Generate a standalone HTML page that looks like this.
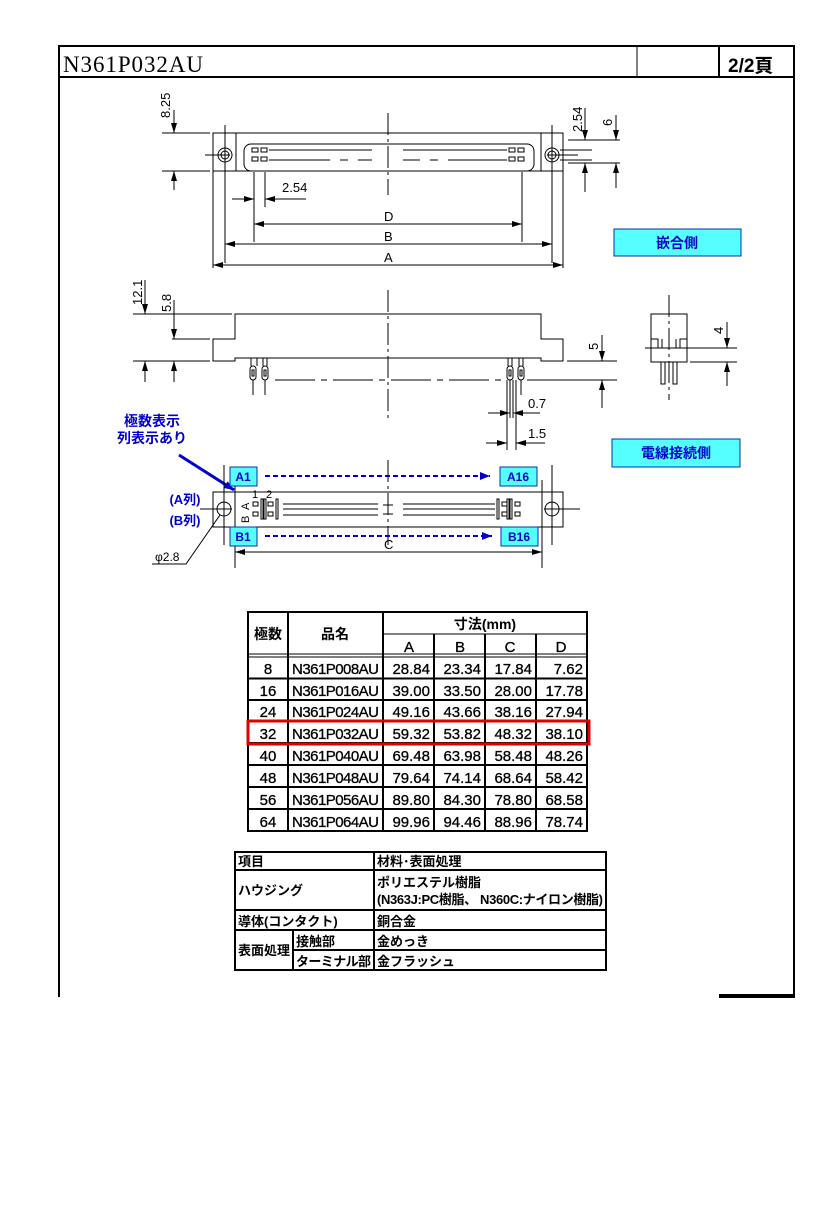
<!DOCTYPE html>
<html><head><meta charset="utf-8"><style>
html,body{margin:0;padding:0;background:#fff;width:827px;height:1205px;overflow:hidden}
svg{display:block}
.t{font-family:"Liberation Sans","Noto Sans CJK JP",sans-serif}
.j{font-family:"Liberation Sans","Noto Sans CJK JP",sans-serif;font-weight:bold}
</style></head><body>
<svg width="827" height="1205" viewBox="0 0 827 1205" xmlns="http://www.w3.org/2000/svg">
<defs>
<marker id="ar" viewBox="0 0 10 6" refX="10" refY="3" markerWidth="10" markerHeight="6" orient="auto-start-reverse" markerUnits="userSpaceOnUse"><path d="M0,0L10,3L0,6z" fill="#000"/></marker>
<marker id="ab" viewBox="0 0 10 8" refX="10" refY="4" markerWidth="10" markerHeight="8" orient="auto" markerUnits="userSpaceOnUse"><path d="M0,0L10,4L0,8z" fill="#0000cc"/></marker>
</defs>
<g stroke="#000" fill="none">
<line x1="58" y1="46" x2="795" y2="46" stroke-width="2"/>
<line x1="58" y1="77" x2="795" y2="77" stroke-width="2"/>
<line x1="59" y1="45" x2="59" y2="997" stroke-width="2"/>
<line x1="794" y1="45" x2="794" y2="997" stroke-width="2"/>
<line x1="637" y1="46" x2="637" y2="77" stroke-width="1"/>
<line x1="719" y1="46" x2="719" y2="77" stroke-width="2"/>
<line x1="719" y1="996" x2="795" y2="996" stroke-width="4"/>
</g>
<text x="63" y="72" font-family="Liberation Serif,serif" font-size="23" textLength="140">N361P032AU</text>
<text x="728" y="72" class="j" font-size="19">2/2頁</text>

<g stroke="#000" fill="none" stroke-width="1">
<rect x="213" y="133" width="350" height="38"/>
<line x1="236" y1="133" x2="236" y2="171"/>
<line x1="541" y1="133" x2="541" y2="171"/>
<circle cx="225" cy="155" r="7"/><circle cx="225" cy="155" r="4"/>
<circle cx="552" cy="155" r="7"/><circle cx="552" cy="155" r="4"/>
<rect x="244" y="144" width="290" height="27" rx="7"/>
<rect x="252" y="148" width="6" height="4"/><rect x="261" y="148" width="6" height="4"/>
<rect x="252" y="157" width="6" height="4"/><rect x="261" y="157" width="6" height="4"/>
<rect x="509" y="148" width="6" height="4"/><rect x="518" y="148" width="6" height="4"/>
<rect x="509" y="157" width="6" height="4"/><rect x="518" y="157" width="6" height="4"/>
<path d="M269 150H372M403 150H507M269 160H330M340 160H348M358 160H372M403 160H420M430 160H438M448 160H507"/>
<line x1="388" y1="113" x2="388" y2="195" stroke-dasharray="22,4,3,4"/>
<line x1="205" y1="155" x2="230" y2="155"/><line x1="547" y1="155" x2="578" y2="155"/>
<line x1="225" y1="125" x2="225" y2="263"/><line x1="552" y1="125" x2="552" y2="263"/>
<line x1="213" y1="171" x2="213" y2="268"/><line x1="563" y1="171" x2="563" y2="268"/>
<line x1="162" y1="133" x2="210" y2="133"/><line x1="162" y1="171" x2="210" y2="171"/>
<line x1="174" y1="110" x2="174" y2="133" marker-end="url(#ar)"/>
<line x1="174" y1="190" x2="174" y2="171" marker-end="url(#ar)"/>
<line x1="254" y1="172" x2="254" y2="242"/><line x1="265" y1="172" x2="265" y2="207"/>
<line x1="232" y1="199" x2="254" y2="199" marker-end="url(#ar)"/>
<line x1="306" y1="199" x2="265" y2="199" marker-end="url(#ar)"/>
<line x1="522" y1="172" x2="522" y2="242"/>
<line x1="254" y1="224" x2="522" y2="224" marker-start="url(#ar)" marker-end="url(#ar)"/>
<line x1="225" y1="244" x2="552" y2="244" marker-start="url(#ar)" marker-end="url(#ar)"/>
<line x1="213" y1="265" x2="563" y2="265" marker-start="url(#ar)" marker-end="url(#ar)"/>
<line x1="568" y1="140" x2="620" y2="140"/><line x1="568" y1="163" x2="620" y2="163"/>
<line x1="560" y1="150" x2="592" y2="150"/><line x1="560" y1="160" x2="592" y2="160"/>
<line x1="585" y1="108" x2="585" y2="140" marker-end="url(#ar)"/>
<line x1="585" y1="192" x2="585" y2="163" marker-end="url(#ar)"/>
<line x1="616" y1="115" x2="616" y2="140" marker-end="url(#ar)"/>
<line x1="616" y1="188" x2="616" y2="163" marker-end="url(#ar)"/>
</g>
<g class="t" font-size="13">
<text transform="translate(170,118) rotate(-90)">8.25</text>
<text x="282" y="192">2.54</text>
<text x="384" y="221">D</text>
<text x="384" y="241">B</text>
<text x="384" y="262">A</text>
<text transform="translate(582,132) rotate(-90)">2.54</text>
<text transform="translate(612,126) rotate(-90)">6</text>
</g>
<rect x="614" y="229" width="127" height="27" fill="#55ffff" stroke="#0033aa"/>
<text x="677" y="248" class="j" font-size="14" fill="#0000cc" text-anchor="middle">嵌合側</text>

<g stroke="#000" fill="none" stroke-width="1">
<path d="M235 314H541V339H563V361H541V358H235V361H213V339H235Z"/>
<line x1="388" y1="290" x2="388" y2="418" stroke-dasharray="22,4,3,4"/>
<line x1="133" y1="314" x2="232" y2="314"/>
<line x1="172" y1="339" x2="210" y2="339"/>
<line x1="133" y1="361" x2="210" y2="361"/>
<line x1="145" y1="280" x2="145" y2="314" marker-end="url(#ar)"/>
<line x1="145" y1="382" x2="145" y2="361" marker-end="url(#ar)"/>
<line x1="174" y1="300" x2="174" y2="339" marker-end="url(#ar)"/>
<line x1="174" y1="382" x2="174" y2="361" marker-end="url(#ar)"/>
<g>
<path d="M251 358v8M257 358v8"/>
<rect x="250" y="366" width="6" height="14" rx="3"/><rect x="252" y="370" width="2" height="6"/>
<rect x="262" y="366" width="6" height="14" rx="3"/><rect x="264" y="370" width="2" height="6"/>
<path d="M263 358v8M267 358v8M253 380v15M265 380v15"/>
<rect x="507" y="366" width="6" height="14" rx="3"/><rect x="509" y="370" width="2" height="6"/>
<rect x="518" y="366" width="6" height="14" rx="3"/><rect x="520" y="370" width="2" height="6"/>
<path d="M508 358v8M512 358v8M519 358v8M523 358v8M521 380v15"/>
</g>
<line x1="275" y1="380" x2="505" y2="380" stroke-dasharray="40,6,6,6"/>
<line x1="527" y1="380" x2="617" y2="380"/>
<line x1="567" y1="361" x2="617" y2="361"/>
<line x1="602" y1="335" x2="602" y2="361" marker-end="url(#ar)"/>
<line x1="602" y1="408" x2="602" y2="380" marker-end="url(#ar)"/>
<line x1="507" y1="380" x2="507" y2="450"/><line x1="510" y1="380" x2="510" y2="418"/>
<line x1="513" y1="380" x2="513" y2="418"/><line x1="516" y1="380" x2="516" y2="450"/>
<line x1="488" y1="413" x2="510" y2="413" marker-end="url(#ar)"/>
<line x1="540" y1="413" x2="513" y2="413" marker-end="url(#ar)"/>
<line x1="486" y1="443" x2="507" y2="443" marker-end="url(#ar)"/>
<line x1="545" y1="443" x2="516" y2="443" marker-end="url(#ar)"/>
<rect x="651" y="314" width="36" height="48"/>
<path d="M651 339H658V348M680 348V339H687M658 339V348M662 339V348M676 339V348"/>
<line x1="669" y1="295" x2="669" y2="400" stroke-dasharray="22,4,3,4"/>
<rect x="661" y="362" width="4" height="22"/><rect x="673" y="362" width="4" height="22"/>
<line x1="645" y1="348" x2="737" y2="348"/><line x1="690" y1="362" x2="737" y2="362"/>
<line x1="727" y1="322" x2="727" y2="348" marker-end="url(#ar)"/>
<line x1="727" y1="386" x2="727" y2="362" marker-end="url(#ar)"/>
</g>
<g class="t" font-size="13">
<text transform="translate(142,305) rotate(-90)">12.1</text>
<text transform="translate(171,312) rotate(-90)">5.8</text>
<text transform="translate(598,350) rotate(-90)">5</text>
<text x="528" y="408">0.7</text>
<text x="528" y="438">1.5</text>
<text transform="translate(723,334) rotate(-90)">4</text>
</g>
<rect x="612" y="439" width="128" height="28" fill="#55ffff" stroke="#0033aa"/>
<text x="676" y="458" class="j" font-size="14" fill="#0000cc" text-anchor="middle">電線接続側</text>
<text x="152" y="426" class="j" font-size="14" fill="#0000cc" text-anchor="middle">極数表示</text>
<text x="152" y="443" class="j" font-size="14" fill="#0000cc" text-anchor="middle">列表示あり</text>
<line x1="179" y1="455" x2="234" y2="490" stroke="#0000cc" stroke-width="3" marker-end="url(#ab)"/>

<g stroke="#000" fill="none" stroke-width="1">
<rect x="213" y="492" width="350" height="35"/>
<line x1="235" y1="480" x2="235" y2="568"/>
<line x1="542" y1="480" x2="542" y2="568"/>
<line x1="224" y1="465" x2="224" y2="545"/><line x1="552" y1="465" x2="552" y2="545"/>
<circle cx="224" cy="509" r="7"/><circle cx="552" cy="509" r="7"/>
<line x1="200" y1="509" x2="232" y2="509"/><line x1="544" y1="509" x2="580" y2="509"/>
<line x1="388" y1="460" x2="388" y2="545" stroke-dasharray="22,4,3,4"/>
<path d="M283 504H378M283 509H378M283 515H378M403 504H495M403 509H495M403 515H495"/>
<path d="M383 505H393M388 505V514M383 514H393"/>
<rect x="253" y="502" width="5" height="4"/><rect x="253" y="512" width="5" height="4"/>
<rect x="268" y="502" width="5" height="4"/><rect x="268" y="512" width="5" height="4"/>
<rect x="261" y="499" width="2" height="20"/><rect x="264" y="499" width="2" height="20"/>
<rect x="276" y="499" width="2" height="20"/>
<rect x="497" y="499" width="2" height="20"/><rect x="510" y="499" width="2" height="20"/><rect x="507" y="499" width="2" height="20"/>
<rect x="502" y="502" width="5" height="4"/><rect x="502" y="512" width="5" height="4"/>
<rect x="515" y="502" width="5" height="4"/><rect x="515" y="512" width="5" height="4"/>
<line x1="235" y1="552" x2="542" y2="552" marker-start="url(#ar)" marker-end="url(#ar)"/>
<polyline points="152,564 186,564 220,515"/>
</g>
<g class="t" font-size="11">
<text x="252" y="498">1</text><text x="266" y="498">2</text>
<text transform="translate(249,510) rotate(-90)">A</text>
<text transform="translate(249,523) rotate(-90)">B</text>
</g>
<text x="384" y="549" class="t" font-size="13">C</text>
<text x="155" y="561" class="t" font-size="12">φ2.8</text>
<text x="185" y="504" class="j" font-size="13" fill="#0000cc" text-anchor="middle">(A列)</text>
<text x="185" y="525" class="j" font-size="13" fill="#0000cc" text-anchor="middle">(B列)</text>
<g stroke="#0033aa" fill="#55ffff">
<rect x="230" y="467" width="27" height="19"/><rect x="500" y="467" width="37" height="19"/>
<rect x="230" y="527" width="27" height="19"/><rect x="501" y="527" width="37" height="19"/>
</g>
<g class="j" font-size="12" fill="#0000cc" text-anchor="middle">
<text x="243" y="481">A1</text><text x="518" y="481">A16</text>
<text x="243" y="541">B1</text><text x="519" y="541">B16</text>
</g>
<g stroke="#0000cc" stroke-width="2" stroke-dasharray="5,3">
<line x1="265" y1="476" x2="490" y2="476" marker-end="url(#ab)"/>
<line x1="265" y1="536" x2="492" y2="536" marker-end="url(#ab)"/>
</g>

<g stroke="#000" fill="none">
<rect x="248" y="612" width="339" height="219" stroke-width="2"/>
<line x1="383" y1="634" x2="587" y2="634"/>
<line x1="248" y1="654" x2="587" y2="654" stroke-width="1"/>
<line x1="248" y1="657" x2="587" y2="657" stroke-width="1"/>
<line x1="288" y1="612" x2="288" y2="831" stroke-width="2"/>
<line x1="383" y1="612" x2="383" y2="831" stroke-width="2"/>
<line x1="434" y1="634" x2="434" y2="831" stroke-width="2"/>
<line x1="485" y1="634" x2="485" y2="831" stroke-width="2"/>
<line x1="536" y1="634" x2="536" y2="831" stroke-width="2"/>
<g stroke-width="2">
<line x1="248" y1="678.5" x2="587" y2="678.5"/><line x1="248" y1="700" x2="587" y2="700"/>
<line x1="248" y1="721.5" x2="587" y2="721.5"/><line x1="248" y1="743" x2="587" y2="743"/>
<line x1="248" y1="765" x2="587" y2="765"/><line x1="248" y1="787" x2="587" y2="787"/>
<line x1="248" y1="809" x2="587" y2="809"/>
</g>
</g>
<g class="j" font-size="14" text-anchor="middle">
<text x="268" y="639">極数</text><text x="335" y="639">品名</text><text x="485" y="629">寸法(mm)</text>
</g>
<g class="t" font-size="15" text-anchor="middle" stroke="#000" stroke-width="0.3">
<text x="409" y="652">A</text><text x="460" y="652">B</text><text x="510" y="652">C</text><text x="561" y="652">D</text>
</g>
<g class="t" font-size="15" stroke="#000" stroke-width="0.3">
<g text-anchor="middle">
<text x="268" y="674">8</text><text x="268" y="696">16</text><text x="268" y="717">24</text><text x="268" y="739">32</text>
<text x="268" y="761">40</text><text x="268" y="783">48</text><text x="268" y="805">56</text><text x="268" y="827">64</text>
</g>
<g>
<text x="292" y="674" textLength="87">N361P008AU</text><text x="292" y="696" textLength="87">N361P016AU</text>
<text x="292" y="717" textLength="87">N361P024AU</text><text x="292" y="739" textLength="87">N361P032AU</text>
<text x="292" y="761" textLength="87">N361P040AU</text><text x="292" y="783" textLength="87">N361P048AU</text>
<text x="292" y="805" textLength="87">N361P056AU</text><text x="292" y="827" textLength="87">N361P064AU</text>
</g>
<g text-anchor="end">
<text x="430" y="674">28.84</text><text x="481" y="674">23.34</text><text x="532" y="674">17.84</text><text x="583" y="674">7.62</text>
<text x="430" y="696">39.00</text><text x="481" y="696">33.50</text><text x="532" y="696">28.00</text><text x="583" y="696">17.78</text>
<text x="430" y="717">49.16</text><text x="481" y="717">43.66</text><text x="532" y="717">38.16</text><text x="583" y="717">27.94</text>
<text x="430" y="739">59.32</text><text x="481" y="739">53.82</text><text x="532" y="739">48.32</text><text x="583" y="739">38.10</text>
<text x="430" y="761">69.48</text><text x="481" y="761">63.98</text><text x="532" y="761">58.48</text><text x="583" y="761">48.26</text>
<text x="430" y="783">79.64</text><text x="481" y="783">74.14</text><text x="532" y="783">68.64</text><text x="583" y="783">58.42</text>
<text x="430" y="805">89.80</text><text x="481" y="805">84.30</text><text x="532" y="805">78.80</text><text x="583" y="805">68.58</text>
<text x="430" y="827">99.96</text><text x="481" y="827">94.46</text><text x="532" y="827">88.96</text><text x="583" y="827">78.74</text>
</g>
</g>
<rect x="248" y="721" width="341" height="23" fill="none" stroke="#e00000" stroke-width="3"/>

<g stroke="#000" fill="none" stroke-width="2">
<rect x="235" y="852" width="371" height="118"/>
<line x1="235" y1="870" x2="606" y2="870"/>
<line x1="235" y1="910" x2="606" y2="910"/>
<line x1="235" y1="930" x2="606" y2="930"/>
<line x1="293" y1="950" x2="606" y2="950"/>
<line x1="374" y1="852" x2="374" y2="970"/>
<line x1="293" y1="930" x2="293" y2="970"/>
</g>
<g class="j" font-size="13">
<text x="238" y="866">項目</text><text x="377" y="866">材料･表面処理</text>
<text x="238" y="895">ハウジング</text>
<text x="377" y="887">ポリエステル樹脂</text>
<text x="377" y="904" textLength="226">(N363J:PC樹脂、 N360C:ナイロン樹脂)</text>
<text x="238" y="926">導体(コンタクト)</text><text x="377" y="926">銅合金</text>
<text x="238" y="955">表面処理</text>
<text x="296" y="946">接触部</text><text x="377" y="946">金めっき</text>
<text x="296" y="966" textLength="75">ターミナル部</text><text x="377" y="966">金フラッシュ</text>
</g>
</svg>
</body></html>
